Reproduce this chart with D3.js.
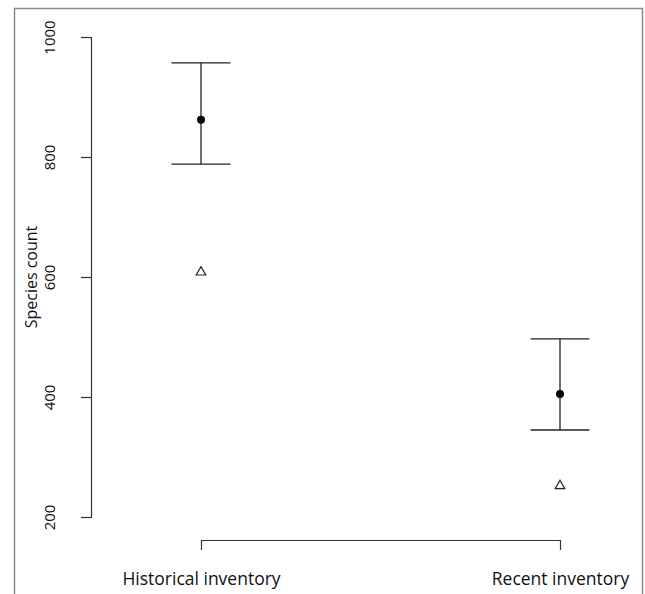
<!DOCTYPE html>
<html>
<head>
<meta charset="utf-8">
<script src="https://cdn.jsdelivr.net/npm/d3@7"></script>
<style>
  html, body { margin: 0; padding: 0; background: #fff; }
  svg { display: block; }
  text { font-family: "Open Sans", sans-serif; fill: #111; }
</style>
</head>
<body>
<svg id="chart" width="645" height="594"></svg>
<script>
const categories = ["Historical inventory", "Recent inventory"];
const meanValues = [862, 405];
const upperValues = [957, 497];
const lowerValues = [788, 345];
const observedValues = [608, 252];
const yTicks = [200, 400, 600, 800, 1000];
const yLabel = "Species count";

const svg = d3.select("#chart");

// outer frame
svg.append("rect")
  .attr("x", 14.5).attr("y", 8.5)
  .attr("width", 628).attr("height", 600)
  .attr("fill", "none").attr("stroke", "#8a8a8a").attr("stroke-width", 1.5);

const x = d3.scalePoint().domain(categories).range([201, 560]);
const y = d3.scaleLinear().domain([200, 1000]).range([517, 37]);

// y axis
const yAxis = svg.append("g").attr("transform", "translate(91,0)")
  .call(d3.axisLeft(y).tickValues(yTicks).tickSize(10).tickPadding(0).tickFormat(d3.format("d")));
yAxis.select(".domain").attr("stroke", "#333").attr("stroke-width", 1.2);
yAxis.selectAll(".tick line").attr("stroke", "#333").attr("stroke-width", 1.2);
yAxis.selectAll(".tick text")
  .attr("transform", "rotate(-90)")
  .attr("x", 0).attr("y", -36).attr("dy", 0)
  .attr("text-anchor", "middle")
  .style("font-size", "15px").style("font-family", "'Open Sans', sans-serif").attr("fill", "#111");

svg.append("text")
  .attr("transform", `translate(37,${(y(200)+y(1000))/2}) rotate(-90)`)
  .attr("text-anchor", "middle")
  .style("font-size", "16px")
  .text(yLabel);

// x axis bracket
const xAxis = svg.append("g").attr("transform", "translate(0,540)")
  .call(d3.axisBottom(x).tickSize(10).tickSizeOuter(0).tickPadding(0));
xAxis.select(".domain").attr("stroke", "#333").attr("stroke-width", 1.2);
xAxis.selectAll(".tick line").attr("stroke", "#333").attr("stroke-width", 1.2);
xAxis.selectAll(".tick text").attr("y", 45).attr("dy", 0)
  .style("font-size", "17.5px").style("font-family", "'Open Sans', sans-serif").attr("fill", "#111");

const data = categories.map((c, i) => ({
  c, mean: meanValues[i], hi: upperValues[i], lo: lowerValues[i], obs: observedValues[i]
}));

const g = svg.append("g");
const capHalf = 29.5;
g.selectAll(".whisker").data(data).join("line")
  .attr("x1", d => x(d.c)).attr("x2", d => x(d.c))
  .attr("y1", d => y(d.hi)).attr("y2", d => y(d.lo))
  .attr("stroke", "#222").attr("stroke-width", 1.3);
g.selectAll(".capHi").data(data).join("line")
  .attr("x1", d => x(d.c) - capHalf).attr("x2", d => x(d.c) + capHalf)
  .attr("y1", d => y(d.hi)).attr("y2", d => y(d.hi))
  .attr("stroke", "#222").attr("stroke-width", 1.3);
g.selectAll(".capLo").data(data).join("line")
  .attr("x1", d => x(d.c) - capHalf).attr("x2", d => x(d.c) + capHalf)
  .attr("y1", d => y(d.lo)).attr("y2", d => y(d.lo))
  .attr("stroke", "#222").attr("stroke-width", 1.3);
g.selectAll(".mean").data(data).join("circle")
  .attr("cx", d => x(d.c)).attr("cy", d => y(d.mean)).attr("r", 4)
  .attr("fill", "#000");
const tri = d3.symbol().type(d3.symbolTriangle).size(40);
g.selectAll(".obs").data(data).join("path")
  .attr("d", tri)
  .attr("transform", d => `translate(${x(d.c)},${y(d.obs)})`)
  .attr("fill", "none").attr("stroke", "#222").attr("stroke-width", 1.2);
</script>
</body>
</html>
